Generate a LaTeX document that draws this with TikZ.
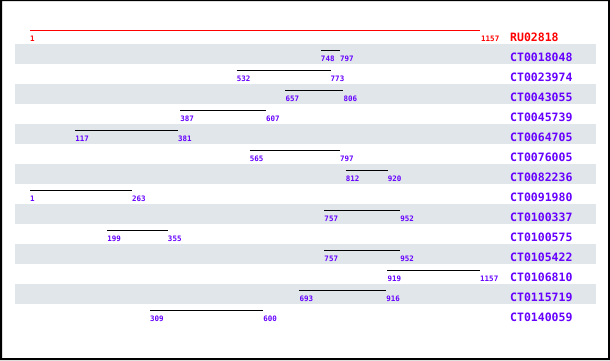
\documentclass[tikz,border=0pt]{standalone}
\usepackage{fontspec}
\newfontfamily\namefont[Scale=1]{DejaVu Sans Mono}
\definecolor{violetc}{RGB}{102,0,255}
\definecolor{bandc}{RGB}{225,230,234}
\definecolor{redc}{RGB}{255,0,0}
\tikzset{
  numlbl/.style={anchor=base west, inner sep=0pt, text=violetc, font=\namefont\bfseries\fontsize{7.5}{8}\selectfont},
  namelbl/.style={anchor=base west, inner sep=0pt, text=violetc, font=\namefont\bfseries\fontsize{11.5}{12}\selectfont},
  bar/.style={draw=black, line width=1pt},
  band/.style={fill=bandc, draw=none},
}
\begin{document}
\begin{tikzpicture}[x=1pt,y=-1pt]
\useasboundingbox (0,0) rectangle (610,360);
\fill[white] (0,0) rectangle (610,360);
% gray bands
\foreach \i in {1,3,5,7,9,11,13}{
  \fill[band] (15,{24+20*\i}) rectangle (596,{44+20*\i});
}
% reference
\coordinate (rs) at (30,30);
\coordinate (re) at (480,30);
\draw[draw=redc, line width=1pt] (rs) -- (re);
\node[numlbl, text=redc] (rsl) at (30,41.5) {1};
\node[numlbl, text=redc] (rel) at (481,41.5) {1157};
\node[namelbl, text=redc] (rn) at (510,41) {RU02818};
% rows
\foreach \i/\s/\e/\n in {
  1/748/797/CT0018048,
  2/532/773/CT0023974,
  3/657/806/CT0043055,
  4/387/607/CT0045739,
  5/117/381/CT0064705,
  6/565/797/CT0076005,
  7/812/920/CT0082236,
  8/1/263/CT0091980,
  9/757/952/CT0100337,
  10/199/355/CT0100575,
  11/757/952/CT0105422,
  12/919/1157/CT0106810,
  13/693/916/CT0115719,
  14/309/600/CT0140059}{
  \pgfmathsetmacro{\xs}{30+(\s-1)/1156*450}
  \pgfmathsetmacro{\xe}{30+(\e-1)/1156*450}
  \pgfmathsetmacro{\yl}{30+20*\i}
  \coordinate (s\i) at (\xs,\yl);
  \coordinate (e\i) at (\xe,\yl);
  \draw[bar] (s\i) -- (e\i);
  \node[numlbl] (sl\i) at (\xs,\yl+11.5) {\s};
  \node[numlbl] (el\i) at (\xe,\yl+11.5) {\e};
  \node[namelbl] (n\i) at (510,\yl+11) {\n};
}
% border: 1px on top, 2px elsewhere
\fill[black, even odd rule] (0,0) rectangle (610,360) (2,1) rectangle (608,358);
\end{tikzpicture}
\end{document}
